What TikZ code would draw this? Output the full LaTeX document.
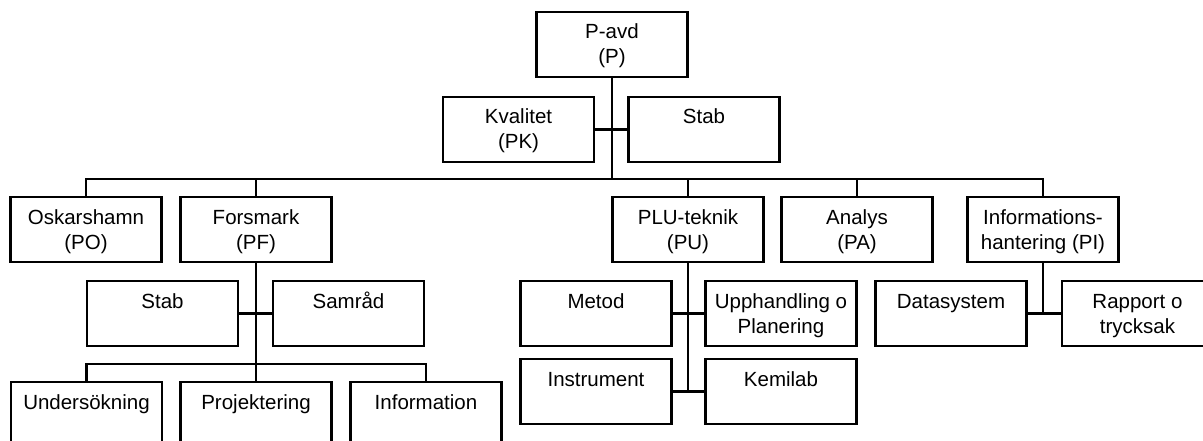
\documentclass[tikz,border=0pt]{standalone}
\usepackage{fontspec}
\setmainfont{Liberation Sans}
\newcommand\topstrut{\rule[-7.5pt]{0pt}{29pt}}
\begin{document}
\begin{tikzpicture}[x=1pt,y=-1pt,
  box/.style={draw, line width=2.7pt, minimum width=151pt, minimum height=65pt,
    inner sep=0pt, align=center, font=\fontsize{20.5}{25}\selectfont},
  conn/.style={line width=2.8pt}]
\useasboundingbox (0,0) rectangle (1203,441);
\clip (0,0) rectangle (1203,441);
% level 0/1
\node[box] (p) at (612,44.5) {\topstrut P-avd\\\strut (P)};
\node[box] (pk) at (518.5,129.5) {\topstrut Kvalitet\\\strut (PK)};
\node[box] (stab) at (704,129.5) {\topstrut Stab\\\strut};
% level 2
\node[box] (po) at (86,229.5) {\topstrut Oskarshamn\\\strut (PO)};
\node[box] (pf) at (256,229.5) {\topstrut Forsmark\\\strut (PF)};
\node[box] (pu) at (688,229.5) {\topstrut PLU-teknik\\\strut (PU)};
\node[box] (pa) at (857,229.5) {\topstrut Analys\\\strut (PA)};
\node[box] (pi) at (1043,229.5) {\topstrut Informations-\\\strut hantering (PI)};
% Forsmark subtree
\node[box] (fstab) at (162.5,313.5) {\topstrut Stab\\\strut};
\node[box] (samrad) at (348.5,313.5) {\topstrut Samråd\\\strut};
\node[box] (unders) at (86.5,414.5) {\topstrut Undersökning\\\strut};
\node[box] (proj) at (256,414.5) {\topstrut Projektering\\\strut};
\node[box] (inform) at (426,414.5) {\topstrut Information\\\strut};
% PU subtree
\node[box] (metod) at (596,313.5) {\topstrut Metod\\\strut};
\node[box] (upph) at (781,313.5) {\topstrut Upphandling o\\\strut Planering};
\node[box] (instr) at (596,391.5) {\topstrut Instrument\\\strut};
\node[box] (kemi) at (781,391.5) {\topstrut Kemilab\\\strut};
% PI subtree
\node[box] (datasys) at (951,313.5) {\topstrut Datasystem\\\strut};
\node[box] (rapport) at (1137.5,313.5) {\topstrut Rapport o\\\strut trycksak};
% connectors
\coordinate (bus) at (612,179);
\coordinate (fbus) at (256,364);
\draw[conn] (p.south) -- (bus);
\draw[conn] (pk.east) -- (stab.west);
\draw[conn] (po.north) |- (bus) -| (pi.north);
\draw[conn] (pf.north) -- (pf.north |- bus);
\draw[conn] (pu.north) -- (pu.north |- bus);
\draw[conn] (pa.north) -- (pa.north |- bus);
\draw[conn] (pf.south) -- (proj.north);
\draw[conn] (fstab.east) -- (samrad.west);
\draw[conn] (unders.north) |- (fbus) -| (inform.north);
\draw[conn] (pu.south) -- (pu.south |- kemi.west);
\draw[conn] (metod.east) -- (upph.west);
\draw[conn] (instr.east) -- (kemi.west);
\draw[conn] (pi.south) -- (pi.south |- rapport.west);
\draw[conn] (datasys.east) -- (rapport.west);
\end{tikzpicture}
\end{document}
